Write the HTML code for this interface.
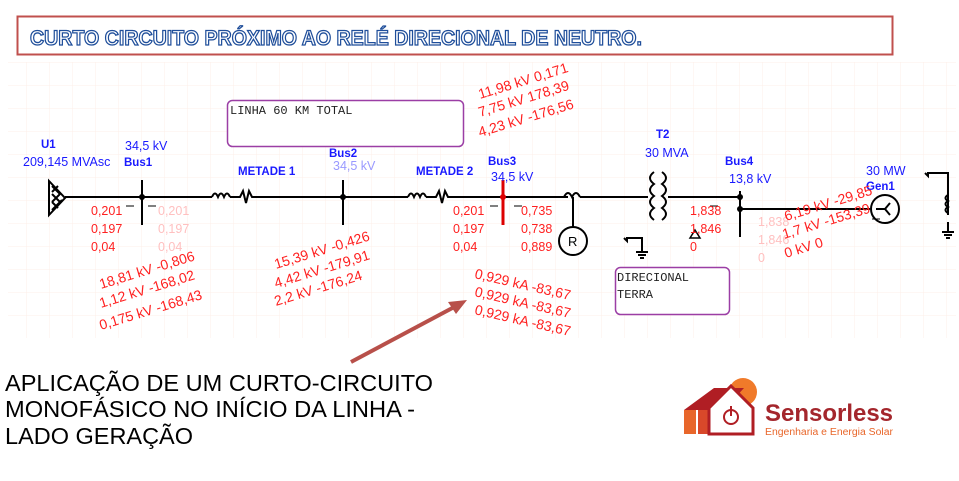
<!DOCTYPE html>
<html><head><meta charset="utf-8"><style>
body{margin:0;background:#fff;width:959px;height:481px;overflow:hidden}
svg{display:block}
.b{font-family:"Liberation Sans",sans-serif;font-weight:bold;fill:#1a1aff;font-size:11.5px}
.l{font-family:"Liberation Sans",sans-serif;fill:#1a1aff;font-size:12.5px}
.r{font-family:"Liberation Sans",sans-serif;fill:#ff2020;font-size:12.5px}
.rr{font-family:"Liberation Sans",sans-serif;fill:#ff2020;font-size:14px}
.p{font-family:"Liberation Sans",sans-serif;fill:#ffc0c0;font-size:12.5px}
.m{font-family:"Liberation Mono",monospace;fill:#222;font-size:12px}
</style></head><body>
<svg width="959" height="481" viewBox="0 0 959 481" xmlns="http://www.w3.org/2000/svg">
<defs>
<pattern id="g" width="23" height="23" patternUnits="userSpaceOnUse" x="3" y="62">
<path d="M0 0H23M0 0V23" stroke="#fcefe8" stroke-width="1" fill="none"/>
</pattern>
</defs>
<rect x="8" y="62" width="948" height="276" fill="url(#g)"/>
<rect x="17.5" y="16.5" width="875" height="38" fill="#fff" stroke="#c0504d" stroke-width="2"/>
<text x="30" y="45" font-family="Liberation Sans,sans-serif" font-weight="bold" font-size="21" fill="#fff" stroke="#1f4e9a" stroke-width="1.3" textLength="612" lengthAdjust="spacingAndGlyphs">CURTO CIRCUITO PRÓXIMO AO RELÉ DIRECIONAL DE NEUTRO.</text>
<rect x="227.5" y="100.5" width="236" height="46" rx="5" fill="#fff" stroke="#9b3ea5" stroke-width="1.5"/>
<text class="m" x="230" y="114">LINHA 60 KM TOTAL</text>
<rect x="615.5" y="267.5" width="114" height="47" rx="5" fill="#fff" stroke="#9b3ea5" stroke-width="1.5"/>
<text class="m" x="617" y="281">DIRECIONAL</text>
<text class="m" x="617" y="298">TERRA</text>
<g stroke="#000" stroke-width="2" fill="none">
<path d="M65 197H212M255 197H408M450 197H568M580 197H648M668 197H740"/>
<path d="M212 197q3-7 6 0q3-7 6 0q3-7 6 0M230 197h10l3-6 3 12 3-12 3 6h3"/>
<path d="M408 197q3-7 6 0q3-7 6 0q3-7 6 0M426 197h10l3-6 3 12 3-12 3 6h5"/>
<path d="M564 197q4-8 8 0q4-8 8 0M573 197V227"/>
<path d="M654 172q-8 6 0 12q-8 6 0 12q-8 6 0 12q-8 6 0 12M662 172q8 6 0 12q8 6 0 12q8 6 0 12q8 6 0 12"/>
<path d="M142 180V225M343 180V225M740 191V237M740 209H870"/>
<path d="M49 181V215L65 198Z"/>
<path d="M52 186l8 8M52 194l8 8M52 202l6 6M58 186l-6 6M60 194l-8 8M62 200l-10 10"/>
<circle cx="573" cy="241" r="14"/>
<circle cx="885" cy="209" r="14"/>
<path d="M876 209H885l5-6M885 209l5 6"/>
<path d="M925 173l3 3v-3H948V215M948 222V232M942 232h12M944 235h8M946 238h4"/>
<path d="M948 195q-5 3 0 6q-5 3 0 6q-5 3 0 6"/>
<path d="M624 238l3 3v-3H642V252M636 252h12M638 255h8M640 258h4"/>
</g>
<path d="M503 180V225" stroke="#d00" stroke-width="3"/>
<circle cx="503" cy="197" r="3" fill="#d00"/>
<circle cx="142" cy="197" r="3"/><circle cx="343" cy="197" r="3"/><circle cx="740" cy="197" r="3"/><circle cx="740" cy="209" r="3"/>
<path d="M690 238l5-8 5 8z" fill="none" stroke="#000" stroke-width="1.5"/>
<text font-family="Liberation Sans,sans-serif" font-size="13" x="568" y="246">R</text>
<g stroke="#000" stroke-width="1"><path d="M126 206h8M148 206h8M490 206h8M514 206h8M718 206h-8M880 219h-8"/></g>
<text class="b" x="41" y="148">U1</text>
<text class="l" x="23" y="166">209,145 MVAsc</text>
<text class="l" x="125" y="150">34,5 kV</text>
<text class="b" x="124" y="166">Bus1</text>
<text class="b" x="238" y="175">METADE 1</text>
<text class="b" x="329" y="157">Bus2</text>
<text class="l" x="333" y="170" style="fill:#9999ff">34,5 kV</text>
<text class="b" x="416" y="175">METADE 2</text>
<text class="b" x="488" y="165">Bus3</text>
<text class="l" x="491" y="181">34,5 kV</text>
<text class="b" x="656" y="138">T2</text>
<text class="l" x="645" y="157">30 MVA</text>
<text class="b" x="725" y="165">Bus4</text>
<text class="l" x="729" y="183">13,8 kV</text>
<text class="l" x="866" y="175">30 MW</text>
<text class="b" x="866" y="190">Gen1</text>
<g class="r"><text x="91" y="215">0,201</text><text x="91" y="233">0,197</text><text x="91" y="251">0,04</text>
<text x="453" y="215">0,201</text><text x="453" y="233">0,197</text><text x="453" y="251">0,04</text>
<text x="521" y="215">0,735</text><text x="521" y="233">0,738</text><text x="521" y="251">0,889</text>
<text x="690" y="215">1,838</text><text x="690" y="233">1,846</text><text x="690" y="251">0</text></g>
<g class="p"><text x="158" y="215">0,201</text><text x="158" y="233">0,197</text><text x="158" y="251">0,04</text>
<text x="758" y="226">1,838</text><text x="758" y="244">1,846</text><text x="758" y="262">0</text></g>
<g class="rr">
<text transform="translate(101,289) rotate(-17)">18,81 kV -0,806</text>
<text transform="translate(101,308) rotate(-17)">1,12 kV -168,02</text>
<text transform="translate(101,330) rotate(-17)">0,175 kV -168,43</text>
<text transform="translate(276,269) rotate(-17)">15,39 kV -0,426</text>
<text transform="translate(276,288) rotate(-17)">4,42 kV -179,91</text>
<text transform="translate(276,306) rotate(-17)">2,2 kV -176,24</text>
<text transform="translate(480,99) rotate(-17)">11,98 kV 0,171</text>
<text transform="translate(480,117) rotate(-17)">7,75 kV 178,39</text>
<text transform="translate(480,137) rotate(-17)">4,23 kV -176,56</text>
<text transform="translate(474,278) rotate(13)">0,929 kA -83,67</text>
<text transform="translate(474,296) rotate(13)">0,929 kA -83,67</text>
<text transform="translate(474,314) rotate(13)">0,929 kA -83,67</text>
<text transform="translate(786,221) rotate(-17)">6,19 kV -29,85</text>
<text transform="translate(784,239) rotate(-17)">1,7 kV -153,39</text>
<text transform="translate(786,258) rotate(-17)">0 kV 0</text>
</g>
<path d="M351 362L458 305" stroke="#b8504a" stroke-width="4"/>
<path d="M467 300L448 302L456 314Z" fill="#b8504a"/>
<g font-family="Liberation Sans,sans-serif" font-size="23" fill="#000">
<text x="5" y="391" textLength="428" lengthAdjust="spacingAndGlyphs">APLICAÇÃO DE UM CURTO-CIRCUITO</text>
<text x="5" y="417" textLength="410" lengthAdjust="spacingAndGlyphs">MONOFÁSICO NO INÍCIO DA LINHA -</text>
<text x="5" y="444" textLength="188" lengthAdjust="spacingAndGlyphs">LADO GERAÇÃO</text>
</g>
<!-- logo -->
<circle cx="743" cy="392" r="14" fill="#f07a2a"/>
<path d="M684 410l30-22h30l-20 22z" fill="#b01e24"/>
<rect x="684" y="410" width="12" height="24" fill="#e8662a"/>
<rect x="698" y="410" width="10" height="24" fill="#d9482a"/>
<path d="M731 386l22 22v26h-44v-26z" fill="#fff" stroke="#b01e24" stroke-width="3"/>
<circle cx="731" cy="417" r="7" fill="none" stroke="#b01e24" stroke-width="2"/>
<path d="M731 406v10" stroke="#b01e24" stroke-width="2"/>
<text x="765" y="421" font-family="Liberation Sans,sans-serif" font-weight="bold" font-size="24" fill="#a4262c" textLength="128" lengthAdjust="spacingAndGlyphs">Sensorless</text>
<text x="765" y="435" font-family="Liberation Sans,sans-serif" font-size="10" fill="#e8662a" textLength="128" lengthAdjust="spacingAndGlyphs">Engenharia e Energia Solar</text>
</svg>
</body></html>
